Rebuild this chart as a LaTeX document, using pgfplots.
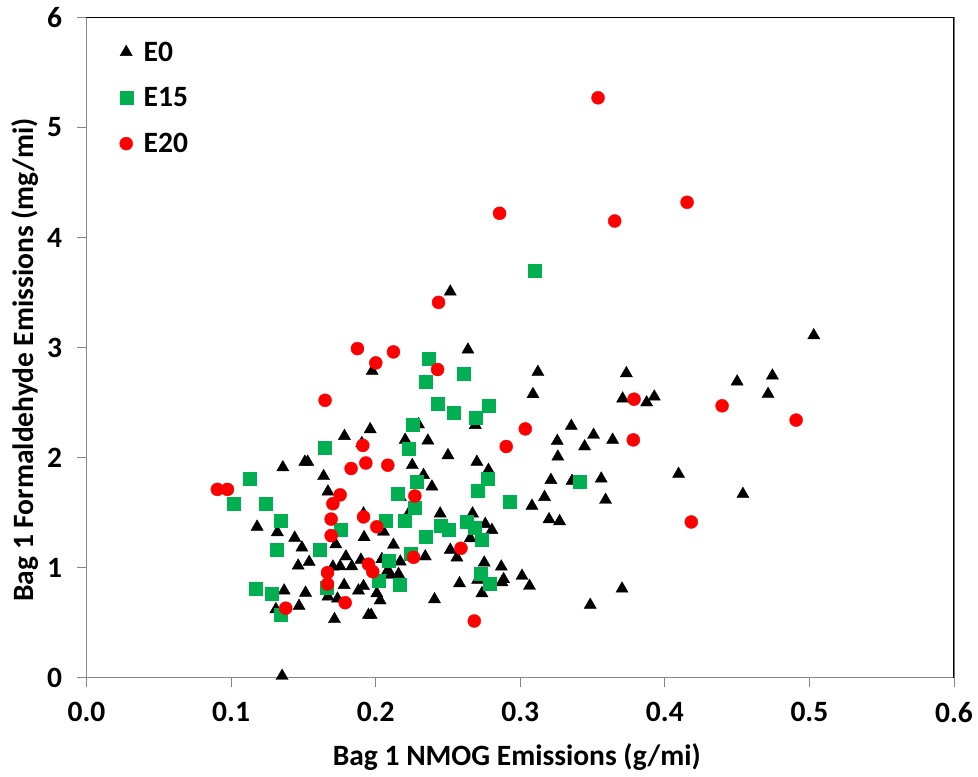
\documentclass[border=0pt]{standalone}
\usepackage{fontspec}
\setmainfont{Carlito}
\usepackage{pgfplots}
\pgfplotsset{compat=1.18}
\definecolor{egreen}{RGB}{0,176,80}
\definecolor{axgray}{RGB}{134,134,134}
\newcommand{\lf}{\fontsize{29.5}{34}\selectfont\bfseries}
\begin{document}
\begin{tikzpicture}
\begin{axis}[
  scale only axis, width=867.5pt, height=660pt,
  xmin=0, xmax=0.6, ymin=0, ymax=6,
  xtick={0,0.1,...,0.6}, ytick={0,1,...,6},
  xticklabel style={/pgf/number format/fixed,/pgf/number format/fixed zerofill,/pgf/number format/precision=1, yshift=-12pt},
  yticklabel style={xshift=-12pt},
  /pgf/number format/assume math mode=true,
  ticklabel style={font=\lf},
  tick align=outside, major tick length=9pt,
  tick style={axgray, line width=1pt},
  xtick pos=bottom, ytick pos=left,
  axis line style={axgray, line width=1.2pt},
  xlabel={Bag 1 NMOG Emissions (g/mi)},
  ylabel={Bag 1 Formaldehyde Emissions (mg/mi)},
  label style={font=\lf},
  xlabel style={at={(axis description cs:0.496,-0.1205)}, anchor=center},
  ylabel style={at={(axis description cs:-0.0709,0.481)}, anchor=center},
  legend style={at={(axis description cs:0,1)}, anchor=north west, xshift=30pt, yshift=-20pt, draw=none, fill=none, font=\lf, row sep=21pt, /tikz/column 1/.style={column sep=9pt}},
  legend cell align=left,
]
\addplot[only marks, mark=triangle*, mark size=7pt, black] coordinates {
(0.1358,1.91) (0.1510,1.96) (0.1530,1.96) (0.164,1.83) (0.167,1.69)
(0.118,1.37) (0.132,1.32) (0.144,1.27) (0.149,1.18) (0.1464,1.016)
(0.154,1.05) (0.1367,0.79) (0.1515,0.77) (0.167,0.735) (0.131,0.62)
(0.147,0.65) (0.1353,0.014) (0.2516,3.507) (0.1976,2.786) (0.2638,2.98)
(0.3122,2.777) (0.3088,2.575) (0.2689,2.295) (0.2296,2.30) (0.1962,2.256)
(0.1784,2.195) (0.1904,2.13) (0.2204,2.16) (0.2361,2.153) (0.250,2.02)
(0.270,1.96) (0.2253,1.93) (0.2331,1.84) (0.278,1.886) (0.2389,1.735)
(0.3212,1.795) (0.217,1.64) (0.3081,1.56) (0.3168,1.64) (0.2239,1.516)
(0.2446,1.49) (0.267,1.49) (0.1916,1.49) (0.2758,1.395) (0.2804,1.34)
(0.2654,1.265) (0.2054,1.325) (0.192,1.275) (0.1724,1.21) (0.2123,1.205)
(0.2516,1.16) (0.2562,1.09) (0.2343,1.10) (0.217,1.053) (0.2043,1.075)
(0.1794,1.10) (0.1754,1.01) (0.1835,1.01) (0.1898,1.07) (0.1704,1.007)
(0.2082,0.971) (0.2158,0.94) (0.2105,0.932) (0.1782,0.84) (0.1736,0.716)
(0.1916,0.83) (0.1881,0.79) (0.2008,0.765) (0.2031,0.70) (0.1715,0.53)
(0.195,0.568) (0.1969,0.568) (0.2407,0.71) (0.258,0.856) (0.2705,0.886)
(0.2751,1.044) (0.2735,0.765) (0.2869,1.007) (0.2885,0.893) (0.2873,0.865)
(0.3012,0.923) (0.3064,0.832) (0.503,3.11) (0.3734,2.765) (0.450,2.69)
(0.4744,2.744) (0.4714,2.577) (0.3708,2.535) (0.3874,2.50) (0.3927,2.553)
(0.3353,2.286) (0.3507,2.205) (0.3256,2.15) (0.3445,2.10) (0.3639,2.16)
(0.326,2.007) (0.4095,1.85) (0.3358,1.786) (0.356,1.807) (0.359,1.614)
(0.454,1.668) (0.3199,1.438) (0.3272,1.42) (0.3704,0.807) (0.3484,0.66)
};
\addlegendentry{E0}
\addplot[only marks, mark=square*, mark size=6.5pt, egreen] coordinates {
(0.165,2.09) (0.113,1.81) (0.1016,1.58) (0.1242,1.58) (0.1346,1.425)
(0.1316,1.16) (0.1616,1.16) (0.166,0.82) (0.117,0.807) (0.128,0.76)
(0.1344,0.574) (0.237,2.90) (0.2608,2.76) (0.2345,2.69) (0.2426,2.49)
(0.2539,2.41) (0.2785,2.47) (0.2689,2.365) (0.2255,2.30) (0.2225,2.077)
(0.2285,1.78) (0.2777,1.81) (0.2707,1.70) (0.2153,1.675) (0.2929,1.60)
(0.2273,1.54) (0.2066,1.425) (0.2204,1.425) (0.2451,1.384) (0.2504,1.347)
(0.2631,1.416) (0.2684,1.36) (0.2735,1.256) (0.1759,1.34) (0.2343,1.28)
(0.2239,1.13) (0.2089,1.06) (0.2022,0.88) (0.2163,0.84) (0.2723,0.947)
(0.2792,0.856) (0.3408,1.78) (0.3102,3.70)
};
\addlegendentry{E15}
\addplot[only marks, mark=*, mark size=6.5pt, red, mark options={draw=red, fill=red}] coordinates {
(0.165,2.52) (0.0905,1.71) (0.0975,1.71) (0.1704,1.58) (0.1692,1.44)
(0.1692,1.29) (0.1667,0.953) (0.1667,0.85) (0.1378,0.63) (0.2435,3.41)
(0.1874,2.99) (0.2123,2.96) (0.2001,2.86) (0.2428,2.80) (0.3035,2.26)
(0.1911,2.11) (0.2903,2.10) (0.1932,1.95) (0.183,1.90) (0.2084,1.93)
(0.1754,1.66) (0.2271,1.65) (0.1916,1.46) (0.2008,1.37) (0.259,1.175)
(0.2262,1.093) (0.195,1.03) (0.198,0.962) (0.1789,0.68) (0.2682,0.514)
(0.3538,5.27) (0.2857,4.22) (0.3653,4.15) (0.4154,4.32) (0.3787,2.53)
(0.4396,2.47) (0.4908,2.34) (0.3782,2.16) (0.4183,1.414)
};
\addlegendentry{E20}
\draw[black, line width=1.2pt] (rel axis cs:0,1) -- (rel axis cs:1,1) -- (rel axis cs:1,0);
\coordinate (SW) at (rel axis cs:0,0);
\coordinate (NE) at (rel axis cs:1,1);
\end{axis}
\pgfresetboundingbox
\path[use as bounding box] ([xshift=-86.5pt,yshift=-98.5pt]SW) rectangle ([xshift=24pt,yshift=17.5pt]NE);
\end{tikzpicture}
\end{document}
